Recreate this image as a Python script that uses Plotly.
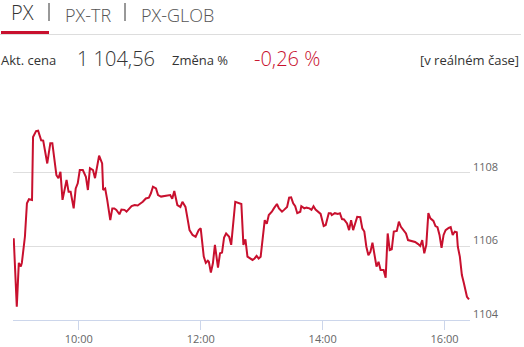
import plotly.graph_objects as go

DAY = "2024-01-02 "

times = [
    "08:56", "08:59", "09:01", "09:03", "09:04", "09:07", "09:09", "09:11", "09:14", "09:15",
    "09:18", "09:20", "09:23", "09:25", "09:29", "09:32", "09:34", "09:36", "09:38", "09:40",
    "09:42", "09:44", "09:46", "09:48", "09:50", "09:52", "09:55", "09:57", "09:59", "10:01",
    "10:04", "10:07", "10:09", "10:11", "10:14", "10:16", "10:20", "10:23", "10:24", "10:26",
    "10:28", "10:31", "10:33", "10:35", "10:37", "10:40", "10:42", "10:45", "10:47", "10:50",
    "10:52", "10:55", "10:58", "11:01", "11:03", "11:06", "11:09", "11:11", "11:13", "11:16",
    "11:18", "11:21", "11:24", "11:27", "11:30", "11:32", "11:34", "11:37", "11:40", "11:42",
    "11:45", "11:47", "11:49", "11:52", "11:55", "11:58", "12:00", "12:03", "12:05", "12:07",
    "12:08", "12:10", "12:12", "12:14", "12:17", "12:19", "12:21", "12:23", "12:25", "12:28",
    "12:30", "12:34", "12:37", "12:40", "12:42", "12:44", "12:46", "12:48", "12:51", "12:53",
    "12:55", "12:57", "12:59", "13:03", "13:05", "13:07", "13:10", "13:12", "13:15", "13:17",
    "13:20", "13:22", "13:25", "13:27", "13:29", "13:31", "13:33", "13:35", "13:38", "13:39",
    "13:42", "13:44", "13:47", "13:49", "13:51", "13:53", "13:56", "13:58", "14:01", "14:03",
    "14:06", "14:08", "14:09", "14:12", "14:15", "14:17", "14:19", "14:21", "14:24", "14:26",
    "14:28", "14:30", "14:32", "14:34", "14:37", "14:39", "14:41", "14:43", "14:45", "14:47",
    "14:49", "14:51", "14:53", "14:55", "14:57", "15:00", "15:02", "15:04", "15:06", "15:08",
    "15:10", "15:13", "15:15", "15:17", "15:19", "15:22", "15:24", "15:28", "15:31", "15:34",
    "15:36", "15:38", "15:40", "15:42", "15:44", "15:46", "15:49", "15:51", "15:53", "15:55",
    "15:57", "15:59", "16:01", "16:04", "16:06", "16:08", "16:10", "16:12", "16:13", "16:15",
    "16:17", "16:19", "16:22", "16:24",
]

prices = [
    1106.22, 1104.36, 1105.55, 1105.45, 1105.55, 1106.26, 1107.17, 1107.28, 1107.26, 1108.97,
    1109.13, 1109.14, 1108.88, 1108.87, 1108.25, 1108.80, 1108.80, 1108.43, 1107.93, 1107.85,
    1108.02, 1107.26, 1107.57, 1107.80, 1107.48, 1107.48, 1107.03, 1107.57, 1107.71, 1108.07,
    1108.07, 1107.89, 1107.53, 1108.12, 1108.07, 1107.85, 1108.46, 1108.25, 1107.53, 1107.57,
    1107.26, 1106.71, 1107.03, 1107.03, 1106.99, 1106.87, 1107.00, 1106.99, 1106.94, 1107.05,
    1107.09, 1107.12, 1107.11, 1107.17, 1107.21, 1107.30, 1107.32, 1107.44, 1107.62, 1107.57,
    1107.39, 1107.35, 1107.37, 1107.39, 1107.39, 1107.29, 1107.50, 1107.12, 1107.07, 1107.21,
    1107.07, 1106.76, 1106.44, 1106.31, 1106.26, 1106.44, 1106.49, 1105.72, 1105.55, 1105.61,
    1105.58, 1105.29, 1105.54, 1106.04, 1105.42, 1105.81, 1105.83, 1106.24, 1106.35, 1106.26,
    1106.04, 1107.21, 1107.17, 1107.15, 1106.04, 1106.19, 1105.72, 1105.69, 1105.63, 1105.67,
    1105.74, 1105.67, 1105.72, 1106.71, 1106.61, 1106.85, 1106.94, 1107.03, 1107.15, 1107.03,
    1106.94, 1106.99, 1107.07, 1107.32, 1107.33, 1107.17, 1107.09, 1106.90, 1106.94, 1107.09,
    1107.03, 1107.05, 1107.03, 1106.99, 1107.09, 1107.00, 1106.94, 1106.88, 1106.55, 1106.58,
    1106.90, 1106.90, 1106.85, 1106.90, 1106.88, 1106.90, 1106.74, 1106.73, 1106.62, 1106.44,
    1106.71, 1106.44, 1106.62, 1106.80, 1106.79, 1106.49, 1106.40, 1105.99, 1105.76, 1105.85,
    1106.10, 1105.81, 1105.45, 1105.58, 1105.36, 1105.36, 1105.15, 1106.35, 1105.90, 1105.92,
    1106.40, 1106.42, 1106.67, 1106.53, 1106.46, 1106.35, 1106.17, 1106.15, 1106.12, 1106.06,
    1106.01, 1106.17, 1105.81, 1106.04, 1106.90, 1106.76, 1106.69, 1106.55, 1106.52, 1106.31,
    1105.96, 1106.31, 1106.44, 1106.50, 1106.52, 1106.31, 1106.40, 1106.38, 1105.99, 1105.72,
    1105.22, 1105.00, 1104.63, 1104.56,
]

x_ticks = ["10:00", "12:00", "14:00", "16:00"]
y_ticks = [1104, 1106, 1108, 1110]
y_ticktext = ["1104", "1106", "1108", ""]

tabs = ["PX", "PX-TR", "PX-GLOB"]
last_price = "1 104,56"
change_pct = "-0,26 %"

RED = "#c8102e"
FONT = "Open Sans"

fig = go.Figure()
fig.add_trace(go.Scatter(
    x=[DAY + t for t in times], y=prices, mode="lines",
    line=dict(color=RED, width=2), hoverinfo="skip", showlegend=False,
))

fig.update_layout(
    width=524, height=347,
    margin=dict(l=13, r=54, t=99, b=27, autoexpand=False),
    paper_bgcolor="white", plot_bgcolor="white",
    font=dict(family=FONT, color="#333"),
    showlegend=False,
    xaxis=dict(
        type="date",
        automargin=False,
        range=[DAY + "08:55:17", DAY + "16:25:00"],
        tickvals=[DAY + t for t in x_ticks],
        ticktext=x_ticks,
        showgrid=False, zeroline=False,
        showline=True, linecolor="#ccd6eb", linewidth=1,
        ticks="outside", ticklen=9, tickcolor="#ccd6eb", tickwidth=1,
        tickfont=dict(family=FONT, size=11, color="#666"),
        fixedrange=True,
    ),
    yaxis=dict(
        side="right",
        automargin=False,
        range=[1104, 1110],
        tickvals=y_ticks, ticktext=y_ticktext,
        showgrid=True, gridcolor="#dedede", gridwidth=1,
        zeroline=False, showline=False, ticks="",
        tickfont=dict(family=FONT, size=11, color="#666"),
        ticklabelstandoff=2, ticklabelshift=-6,
        fixedrange=True,
    ),
)

def px2paper_x(px):
    return (px - 13) / 457.0

def px2paper_y(py):
    return (320 - py) / 221.0

ann = []
ann.append(dict(text=tabs[0], x=px2paper_x(9), y=px2paper_y(12), xanchor="left", yanchor="middle",
                font=dict(size=20, color="#333", family=FONT, weight=300), showarrow=False,
                xref="paper", yref="paper"))
ann.append(dict(text=tabs[1], x=px2paper_x(63), y=px2paper_y(15), xanchor="left", yanchor="middle",
                font=dict(size=18, color="#555", family=FONT, weight=300), showarrow=False,
                xref="paper", yref="paper"))
ann.append(dict(text=tabs[2], x=px2paper_x(139), y=px2paper_y(15), xanchor="left", yanchor="middle",
                font=dict(size=18, color="#555", family=FONT, weight=300), showarrow=False,
                xref="paper", yref="paper"))
ann.append(dict(text="Akt. cena", x=px2paper_x(-1), y=px2paper_y(60), xanchor="left", yanchor="middle",
                font=dict(size=13, color="#333", family=FONT), showarrow=False,
                xref="paper", yref="paper"))
ann.append(dict(text=last_price, x=px2paper_x(75), y=px2paper_y(58), xanchor="left", yanchor="middle",
                font=dict(size=20, color="#333", family=FONT, weight=300), showarrow=False,
                xref="paper", yref="paper"))
ann.append(dict(text="Změna %", x=px2paper_x(170), y=px2paper_y(60), xanchor="left", yanchor="middle",
                font=dict(size=13, color="#333", family=FONT), showarrow=False,
                xref="paper", yref="paper"))
ann.append(dict(text=change_pct, x=px2paper_x(252), y=px2paper_y(58), xanchor="left", yanchor="middle",
                font=dict(size=20, color=RED, family=FONT, weight=300), showarrow=False,
                xref="paper", yref="paper"))
ann.append(dict(text="[v reálném čase]", x=px2paper_x(521), y=px2paper_y(60), xanchor="right", yanchor="middle",
                font=dict(size=13, color="#333", family=FONT), showarrow=False,
                xref="paper", yref="paper"))
fig.update_layout(annotations=ann)

shapes = [
    dict(type="line", xref="paper", yref="paper", x0=px2paper_x(49), x1=px2paper_x(49),
         y0=px2paper_y(3), y1=px2paper_y(21), line=dict(color="#333", width=1)),
    dict(type="line", xref="paper", yref="paper", x0=px2paper_x(125), x1=px2paper_x(125),
         y0=px2paper_y(3), y1=px2paper_y(21), line=dict(color="#333", width=1)),
    dict(type="line", xref="paper", yref="paper", x0=px2paper_x(0), x1=px2paper_x(521),
         y0=px2paper_y(34.5), y1=px2paper_y(34.5), line=dict(color="#dddddd", width=1)),
    dict(type="rect", xref="paper", yref="paper", x0=px2paper_x(1), x1=px2paper_x(49),
         y0=px2paper_y(34), y1=px2paper_y(31), line=dict(width=0), fillcolor=RED),
]
fig.update_layout(shapes=shapes)

fig.write_html("out.html")
